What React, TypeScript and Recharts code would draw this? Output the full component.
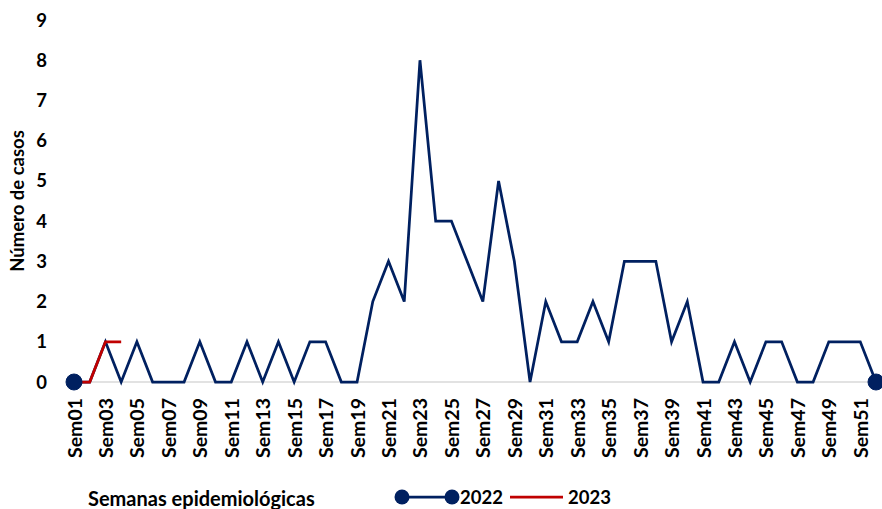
import React from 'react';
import { LineChart, Line, XAxis, YAxis, Legend, ReferenceLine } from 'recharts';

const weeks: string[] = Array.from({ length: 52 }, (_, i) => `Sem${String(i + 1).padStart(2, '0')}`);
const cases2022: number[] = [
  0, 0, 1, 0, 1, 0, 0, 0, 1, 0,
  0, 1, 0, 1, 0, 1, 1, 0, 0, 2,
  3, 2, 8, 4, 4, 3, 2, 5, 3, 0,
  2, 1, 1, 2, 1, 3, 3, 3, 1, 2,
  0, 0, 1, 0, 1, 1, 0, 0, 1, 1,
  1, 0,
];
const cases2023: (number | null)[] = [0, 0, 1, 1];
const yTicks: number[] = [0, 1, 2, 3, 4, 5, 6, 7, 8, 9];

const data = weeks.map((w, i) => ({
  week: w,
  y2022: cases2022[i],
  y2023: i < cases2023.length ? cases2023[i] : null,
}));

const NAVY = '#002060';
const RED = '#c00000';
const FONT = 'Lato, "Open Sans", sans-serif';

const EndDot = (props: any) => {
  const { cx, cy, index } = props;
  if (index === 0 || index === cases2022.length - 1) {
    return <circle key={`d${index}`} cx={cx} cy={cy} r={8} fill={NAVY} stroke={NAVY} />;
  }
  return <g key={`d${index}`} />;
};

const XTick = (props: any) => {
  const { x, y, payload } = props;
  return (
    <text
      x={x}
      y={y}
      transform={`rotate(-90, ${x}, ${y})`}
      textAnchor="end"
      dominantBaseline="central"
      fontFamily={FONT}
      fontWeight={700}
      fontSize={19.5}
      fill="#000"
    >
      {payload.value}
    </text>
  );
};

const YLabel = (props: any) => {
  const x = 17;
  const vb = props.viewBox || {};
  const y = (vb.y || 0) + (vb.height || 0) / 2;
  return (
    <text
      x={x}
      y={y}
      transform={`rotate(-90, ${x}, ${y})`}
      textAnchor="middle"
      dominantBaseline="central"
      fontFamily={FONT}
      fontWeight={700}
      fontSize={18.5}
      fill="#000"
    >
      Número de casos
    </text>
  );
};

const LegendContent = () => (
  <div style={{ position: 'relative', width: 882, height: 30, fontFamily: FONT, fontWeight: 700, fontSize: 18.5, color: '#000', lineHeight: '30px' }}>
    <div style={{ position: 'absolute', left: 88, top: 1, whiteSpace: 'nowrap', fontSize: 20 }}>Semanas epidemiológicas</div>
    <svg style={{ position: 'absolute', left: 390, top: 0 }} width={72} height={30}>
      <line x1={12} y1={15} x2={62} y2={15} stroke={NAVY} strokeWidth={2.75} />
      <circle cx={12} cy={15} r={7.5} fill={NAVY} />
      <circle cx={62} cy={15} r={7.5} fill={NAVY} />
    </svg>
    <div style={{ position: 'absolute', left: 460, top: 0 }}>2022</div>
    <svg style={{ position: 'absolute', left: 508, top: 0 }} width={58} height={30}>
      <line x1={2} y1={15} x2={55} y2={15} stroke={RED} strokeWidth={2.75} />
    </svg>
    <div style={{ position: 'absolute', left: 568, top: 0 }}>2023</div>
  </div>
);

export default function App() {
  return (
    <div style={{ position: 'absolute', left: 0, top: 0, width: 882, height: 509, background: '#fff' }}>
      <LineChart width={882} height={509} data={data} margin={{ top: 20, right: 6, bottom: 0, left: 0 }}>
        <ReferenceLine y={0} stroke="#d9d9d9" strokeWidth={1.5} ifOverflow="extendDomain" />
        <XAxis
          dataKey="week"
          interval={1}
          height={127}
          tick={<XTick />}
          tickLine={false}
          tickSize={0}
          tickMargin={16}
          axisLine={false}
          padding={{ left: 0, right: 0 }}
        />
        <YAxis
          width={74}
          domain={[0, 9]}
          ticks={yTicks}
          interval={0}
          axisLine={false}
          tickLine={false}
          tickSize={0}
          tickMargin={27}
          tick={{ fontFamily: FONT, fontWeight: 700, fontSize: 18.5, fill: '#000' }}
          label={<YLabel />}
        />
        <Legend
          layout="horizontal"
          verticalAlign="middle"
          align="center"
          wrapperStyle={{ top: 482, left: 0, width: 882, height: 30 }}
          content={<LegendContent />}
        />
        <Line
          dataKey="y2022"
          name="2022"
          stroke={NAVY}
          strokeWidth={2.75}
          dot={<EndDot />}
          activeDot={false}
          isAnimationActive={false}
        />
        <Line
          dataKey="y2023"
          name="2023"
          stroke={RED}
          strokeWidth={2.75}
          dot={false}
          activeDot={false}
          connectNulls={false}
          isAnimationActive={false}
        />
      </LineChart>
    </div>
  );
}
